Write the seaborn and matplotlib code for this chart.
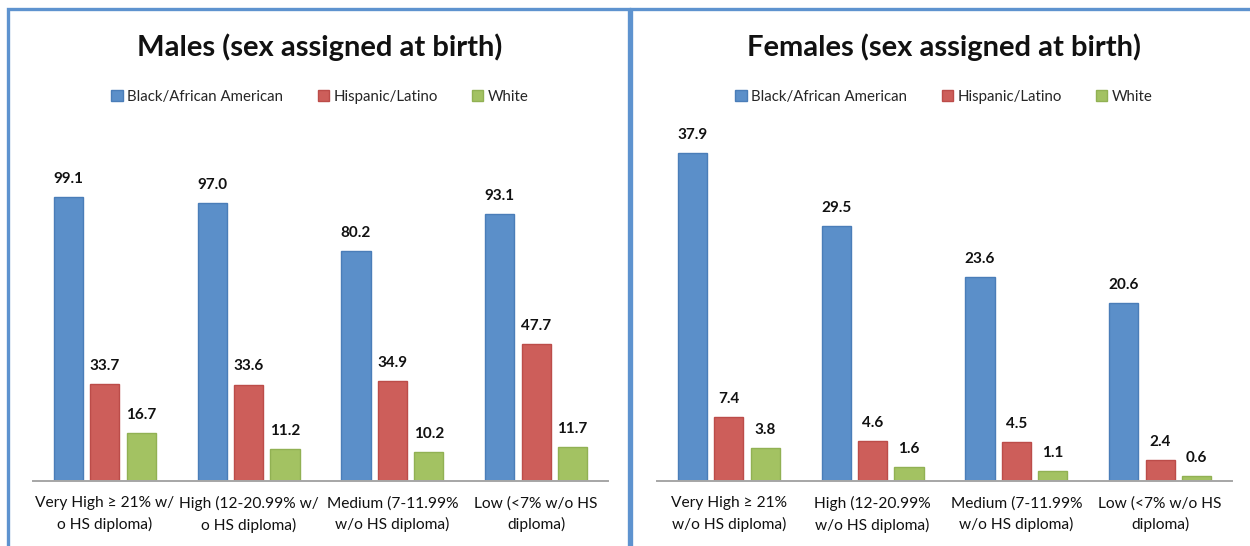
import pandas as pd
import matplotlib
matplotlib.use("Agg")
import matplotlib.pyplot as plt
import seaborn as sns
from matplotlib.patches import Rectangle

# === DATA ===
races = ["Black/African American", "Hispanic/Latino", "White"]
male_labels = ["Very High ≥ 21% w/\no HS diploma)", "High (12-20.99% w/\no HS diploma)",
               "Medium (7-11.99%\nw/o HS diploma)", "Low (<7% w/o HS\ndiploma)"]
female_labels = ["Very High ≥ 21%\nw/o HS diploma)", "High (12-20.99%\nw/o HS diploma)",
                 "Medium (7-11.99%\nw/o HS diploma)", "Low (<7% w/o HS\ndiploma)"]
male_black = [99.1, 97.0, 80.2, 93.1]
male_hisp = [33.7, 33.6, 34.9, 47.7]
male_white = [16.7, 11.2, 10.2, 11.7]
female_black = [37.9, 29.5, 23.6, 20.6]
female_hisp = [7.4, 4.6, 4.5, 2.4]
female_white = [3.8, 1.6, 1.1, 0.6]

FACE = ["#5B8FC9", "#CD5E5A", "#A3C262"]
EDGE = ["#4A7DB8", "#BC4C49", "#91B153"]
BORDER = "#5E93CF"


def make_df(labels, black, hisp, white):
    rows = []
    for vals, race in zip([black, hisp, white], races):
        for lab, v in zip(labels, vals):
            rows.append({"group": lab, "race": race, "value": v})
    return pd.DataFrame(rows)


sns.set_style("white")
plt.rcParams["font.family"] = ["Lato", "DejaVu Sans"]

fig = plt.figure(figsize=(12.5, 5.46), dpi=100)
W, H = 1250, 546

# panel borders
fig.patches.append(Rectangle((8 / W, -0.05), 621 / W, 1.05 - 9 / H, transform=fig.transFigure,
                             fill=False, edgecolor=BORDER, linewidth=2.4))
fig.patches.append(Rectangle((631 / W, -0.05), 0.6, 1.05 - 9 / H, transform=fig.transFigure,
                             fill=False, edgecolor=BORDER, linewidth=2.4))

panels = [
    ("Males (sex assigned at birth)", male_labels, male_black, male_hisp, male_white, 33, 125.8),
    ("Females (sex assigned at birth)", female_labels, female_black, female_hisp, female_white, 657, 41.7),
]

for title, labels, black, hisp, white, x0, ytop in panels:
    df = make_df(labels, black, hisp, white)
    ax = fig.add_axes([x0 / W, 65 / H, 575 / W, 361 / H])
    sns.barplot(data=df, x="group", y="value", hue="race", palette=FACE, saturation=1,
                width=0.76, gap=0.2, ax=ax, legend=False, errorbar=None)
    for i, cont in enumerate(ax.containers):
        for p in cont:
            p.set_edgecolor(EDGE[i])
            p.set_linewidth(1.0)
        ax.bar_label(cont, fmt="%.1f", padding=8, fontsize=11, fontweight="bold", color="#111111")
    ax.set_ylim(0, ytop)
    ax.set_xlim(-0.5, 3.5)
    ax.set_xlabel("")
    ax.set_ylabel("")
    ax.set_yticks([])
    ax.tick_params(axis="x", length=0, pad=11, labelsize=11.2, labelcolor="#111111")
    for lab in ax.get_xticklabels():
        lab.set_linespacing(1.55)
    sns.despine(ax=ax, left=True)
    ax.spines["bottom"].set_color("#A6A6A6")
    ax.spines["bottom"].set_linewidth(1.4)
    ax.patch.set_alpha(0)

    cx = (x0 + 287) / W
    fig.text(cx, 1 - 47 / H, title, ha="center", va="center", fontsize=21, fontweight="bold",
             color="#111111")

    handles = [Rectangle((0, 0), 1, 1, facecolor=FACE[i], edgecolor=EDGE[i]) for i in range(3)]
    fig.legend(handles, races, loc="center", bbox_to_anchor=(cx, 1 - 97 / H), ncol=3,
               frameon=False, fontsize=10.8, handlelength=0.75, handleheight=0.75,
               handletextpad=0.3, columnspacing=2.3)

fig.savefig("out.png", dpi=100)
